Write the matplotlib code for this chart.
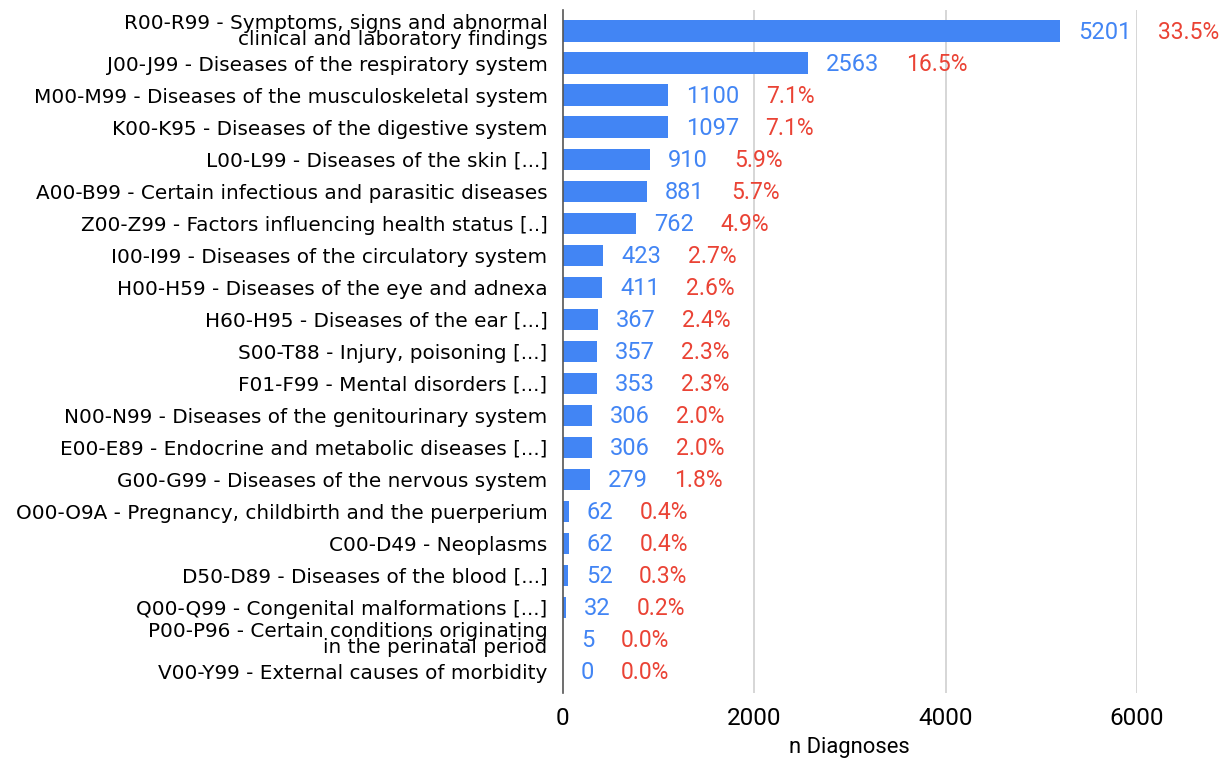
import matplotlib.pyplot as plt

# Diagnosis chapters (top to bottom)
categories = [
    'R00-R99 - Symptoms, signs and abnormal\nclinical and laboratory findings',
    'J00-J99 - Diseases of the respiratory system',
    'M00-M99 - Diseases of the musculoskeletal system',
    'K00-K95 - Diseases of the digestive system',
    'L00-L99 - Diseases of the skin [...]',
    'A00-B99 - Certain infectious and parasitic diseases',
    'Z00-Z99 - Factors influencing health status [..]',
    'I00-I99 - Diseases of the circulatory system',
    'H00-H59 - Diseases of the eye and adnexa',
    'H60-H95 - Diseases of the ear [...]',
    'S00-T88 - Injury, poisoning [...]',
    'F01-F99 - Mental disorders [...]',
    'N00-N99 - Diseases of the genitourinary system',
    'E00-E89 - Endocrine and metabolic diseases [...]',
    'G00-G99 - Diseases of the nervous system',
    'O00-O9A - Pregnancy, childbirth and the puerperium',
    'C00-D49 - Neoplasms',
    'D50-D89 - Diseases of the blood [...]',
    'Q00-Q99 - Congenital malformations [...]',
    'P00-P96 - Certain conditions originating\nin the perinatal period',
    'V00-Y99 - External causes of morbidity',
]
counts = [5201, 2563, 1100, 1097, 910, 881, 762, 423, 411, 367, 357, 353,
          306, 306, 279, 62, 62, 52, 32, 5, 0]
percents = ['33.5%', '16.5%', '7.1%', '7.1%', '5.9%', '5.7%', '4.9%', '2.7%',
            '2.6%', '2.4%', '2.3%', '2.3%', '2.0%', '2.0%', '1.8%', '0.4%',
            '0.4%', '0.3%', '0.2%', '0.0%', '0.0%']

blue = '#4285F4'
red = '#EA4335'

fig = plt.figure(figsize=(12.29, 7.6), dpi=100)
ax = fig.add_axes([0.458, 0.088, 0.467, 0.899])

ypos = list(range(len(categories)))
ax.barh(ypos, counts, height=0.66, color=blue, zorder=2)

for y, c, p in zip(ypos, counts, percents):
    t = ax.annotate(str(c), xy=(c, y), xytext=(13, -1), textcoords='offset points',
                    ha='left', va='center', color=blue, fontsize=17,
                    family='Roboto', annotation_clip=False)
    ax.annotate(p, xy=(1, 0.5), xycoords=t, xytext=(19, 0),
                textcoords='offset points', ha='left', va='center',
                color=red, fontsize=16.5, family='Roboto', annotation_clip=False)

ax.set_yticks(ypos)
ax.set_yticklabels(categories, fontsize=14.4, family='DejaVu Sans', linespacing=0.8)
ax.set_ylim(20.68, -0.66)
ax.set_xlim(0, 6000)
ax.set_xticks([0, 2000, 4000, 6000])
ax.tick_params(axis='y', length=0, pad=11)
ax.tick_params(axis='x', length=0, labelsize=17.5, pad=10)
for lab in ax.get_xticklabels():
    lab.set_family('Roboto')
ax.set_xlabel('n Diagnoses', fontsize=15.8, family='Roboto', labelpad=5)

ax.grid(axis='x', color='#d0d0d0', lw=1.2, zorder=0)
ax.xaxis.get_gridlines()[0].set_visible(False)
for s in ['top', 'right', 'bottom']:
    ax.spines[s].set_visible(False)
ax.spines['left'].set_color('#555555')
ax.spines['left'].set_linewidth(1.2)

plt.savefig('out.png')
